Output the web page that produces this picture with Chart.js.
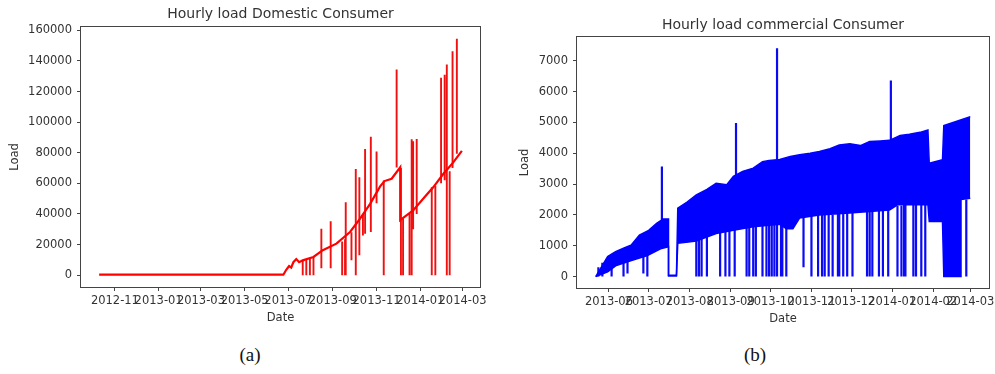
<!DOCTYPE html>
<html>
<head>
<meta charset="utf-8">
<title>Hourly load</title>
<script src="https://cdn.jsdelivr.net/npm/chart.js@4.4.1/dist/chart.umd.min.js"></script>
<style>
  html, body { margin: 0; padding: 0; background: #fff; width: 995px; height: 374px; overflow: hidden; }
  canvas { position: absolute; top: 0; }
  #dom { left: 0; }
  #com { left: 500px; }
  .cap { position: absolute; top: 344px; font-family: "Liberation Serif", "DejaVu Serif", serif;
         font-size: 19px; line-height: 22px; color: #111; transform: translateX(-50%); }
</style>
</head>
<body>
<canvas id="dom" width="495" height="335"></canvas>
<canvas id="com" width="505" height="335"></canvas>
<div class="cap" style="left:250px">(a)</div>
<div class="cap" style="left:755px">(b)</div>
<script>
// ---- Domestic consumer: slowly rising base load with spikes and outages ----
const domBaseDates = ['2012-10-10','2013-06-24','2013-06-28','2013-07-02','2013-07-05','2013-07-08',
  '2013-07-12','2013-07-16','2013-07-21','2013-08-05','2013-08-18','2013-09-06','2013-09-25',
  '2013-10-09','2013-10-23','2013-11-06','2013-11-12','2013-11-22','2013-12-04','2013-12-04',
  '2013-12-22','2014-01-05','2014-01-19','2014-02-02','2014-02-16','2014-02-28'];
const domBaseValues = [300,300,3500,6000,5000,8500,10500,8500,9700,11900,16300,20600,28200,
  37000,46600,58000,61500,63000,70500,36000,42300,49900,57400,66100,73700,81300];

const domSpikeDates = ['2013-07-21','2013-07-26','2013-07-31','2013-08-05','2013-08-16','2013-08-29',
  '2013-09-14','2013-09-18','2013-09-19','2013-09-27','2013-10-03','2013-10-08','2013-10-13',
  '2013-10-16','2013-10-24','2013-11-01','2013-11-11','2013-11-29','2013-12-05','2013-12-08',
  '2013-12-17','2013-12-20','2013-12-22','2013-12-27','2014-01-17','2014-01-22','2014-01-30',
  '2014-02-04','2014-02-07','2014-02-11','2014-02-15','2014-02-21'];
const domSpikeLows  = [0,0,0,0,4500,4500,0,0,0,9700,0,13000,26000,27000,28200,47000,0,70400,0,0,
  0,0,30000,40000,0,0,60000,62000,0,0,70000,79300];
const domSpikeHighs = [9700,10500,11000,11900,30400,35300,22000,23500,47700,28000,69400,64000,40000,
  82400,90400,80800,61800,134400,70000,37000,40000,88800,87500,89000,57400,58500,129000,131000,
  137700,68000,146300,154600];

const domTickLabels = ['2012-11','2013-01','2013-03','2013-05','2013-07','2013-09','2013-11','2014-01','2014-03'];
const domYTicks = [0,20000,40000,60000,80000,100000,120000,140000,160000];

// ---- Commercial consumer: daily swing between a low and a high envelope ----
const comUpperDates = ['2013-05-22','2013-05-31','2013-06-06','2013-06-12','2013-06-18','2013-06-24',
  '2013-07-01','2013-07-07','2013-07-12','2013-07-16','2013-07-16','2013-07-22','2013-07-23',
  '2013-07-30','2013-08-06','2013-08-14','2013-08-21','2013-08-29','2013-09-03','2013-09-10',
  '2013-09-18','2013-09-25','2013-09-30','2013-10-08','2013-10-16','2013-10-23','2013-10-31',
  '2013-11-07','2013-11-15','2013-11-22','2013-11-30','2013-12-08','2013-12-15','2013-12-23',
  '2013-12-30','2014-01-07','2014-01-14','2014-01-22','2014-01-28','2014-01-29','2014-02-08',
  '2014-02-09','2014-02-16','2014-03-01'];
const comUpperValues = [0,650,810,920,1030,1350,1500,1730,1870,1870,40,40,2220,2420,2650,2830,3030,
  2980,3250,3410,3520,3730,3770,3800,3900,3950,4000,4060,4150,4270,4310,4250,4380,4400,4420,4580,
  4620,4680,4760,3680,3790,4900,5000,5190];

const comLowerDates = ['2013-05-22','2013-05-31','2013-06-06','2013-06-18','2013-06-30','2013-07-10',
  '2013-07-16','2013-07-16','2013-07-22','2013-07-23','2013-08-06','2013-08-21','2013-09-03',
  '2013-09-18','2013-10-08','2013-10-13','2013-10-18','2013-10-23','2013-11-07','2013-11-30',
  '2013-12-15','2013-12-30','2014-01-05','2014-01-28','2014-01-29','2014-02-08','2014-02-09',
  '2014-02-22','2014-02-22','2014-03-01'];
const comLowerValues = [0,150,350,520,680,900,970,20,20,1080,1150,1400,1500,1620,1700,1550,1550,
  1900,2000,2060,2110,2160,2330,2330,1790,1790,0,0,2500,2540];

// individual hours where the load fell away or jumped up
const comStrokeDates = ['2013-05-24','2013-05-27','2013-06-03','2013-06-12','2013-06-15','2013-06-27',
  '2013-06-30','2013-07-11','2013-08-06','2013-08-08','2013-08-10','2013-08-14','2013-08-24',
  '2013-08-28','2013-08-31','2013-09-04','2013-09-05','2013-09-13','2013-09-15','2013-09-18',
  '2013-09-20','2013-09-25','2013-09-28','2013-09-30','2013-10-02','2013-10-04','2013-10-06',
  '2013-10-06','2013-10-09','2013-10-10','2013-10-13','2013-10-26','2013-11-01','2013-11-06',
  '2013-11-09','2013-11-11','2013-11-14','2013-11-17','2013-11-21','2013-11-22','2013-11-25',
  '2013-11-28','2013-12-02','2013-12-13','2013-12-15','2013-12-17','2013-12-22','2013-12-25',
  '2013-12-29','2013-12-31','2014-01-05','2014-01-08','2014-01-10','2014-01-11','2014-01-17',
  '2014-01-19','2014-01-23','2014-01-26','2014-02-26'];
const comStrokeLows  = [0,0,0,0,100,100,0,1800,0,0,0,0,0,0,0,0,3300,0,0,0,0,0,0,0,0,0,0,3800,0,0,0,300,
  0,0,0,0,0,0,0,0,0,0,0,0,0,0,0,0,0,4400,0,0,0,0,0,0,0,0,0];
const comStrokeHighs = [300,450,700,900,900,1400,1450,3570,1500,1500,2430,1500,1600,1600,1600,1600,4980,
  1700,1700,1700,1700,3680,1800,1800,1800,1800,1800,7410,1800,1800,1800,3900,2000,2000,2000,2000,
  2000,2000,2100,2100,2100,2100,2100,2150,2150,2150,2200,2200,2200,6360,2300,2300,2350,2350,2350,
  2350,2350,2350,2500];

const comTickLabels = ['2013-06','2013-07','2013-08','2013-09','2013-10','2013-11','2013-12','2014-01','2014-02','2014-03'];
const comYTicks = [0,1000,2000,3000,4000,5000,6000,7000];

// ---- helpers ----
const DAY = 86400000;
const dayOf = s => Date.UTC(+s.slice(0, 4), +s.slice(5, 7) - 1, s.length > 7 ? +s.slice(8, 10) : 1) / DAY;
const series = (dates, vals) => dates.map((d, i) => ({ x: dayOf(d), y: vals[i] }));
const strokes = (dates, lows, highs) => dates.flatMap((d, i) => {
  const x = dayOf(d);
  return [{ x, y: highs[i] }, { x, y: lows[i] }, { x, y: null }];
});
// matplotlib-style 5% data margins
const padRange = (lo, hi) => { const m = (hi - lo) * 0.05; return [lo - m, hi + m]; };

const INK = '#333';
const EDGE = '#444';
const FONT = 'DejaVu Sans';
Chart.defaults.font.family = FONT;
Chart.defaults.color = INK;

const framePlugin = {
  id: 'frame',
  afterDraw(chart) {
    const { ctx, chartArea: a } = chart;
    ctx.save();
    ctx.strokeStyle = EDGE;
    ctx.lineWidth = 1;
    ctx.strokeRect(Math.round(a.left) - 0.5, Math.round(a.top) - 0.5,
                   Math.round(a.right - a.left) + 1, Math.round(a.bottom - a.top) + 1);
    ctx.restore();
  }
};

function xAxis(range, labels, h) {
  return {
    type: 'linear', min: range[0], max: range[1],
    afterBuildTicks: s => { s.ticks = labels.map(l => ({ value: dayOf(l) })); },
    afterFit: s => { s.height = h; s.paddingLeft = 0; s.paddingRight = 0; },
    ticks: { autoSkip: false, maxRotation: 0, minRotation: 0, padding: 3, color: INK,
             font: { family: FONT, size: 11.5 }, callback: (v, i) => labels[i] },
    grid: { drawOnChartArea: false, drawTicks: true, tickLength: 4, color: EDGE, lineWidth: 1 },
    border: { display: false },
    title: { display: true, text: 'Date', color: INK, font: { family: FONT, size: 11.5 },
             padding: { top: 0, bottom: 0 } }
  };
}
function yAxis(range, ticks, w, titlePad) {
  return {
    type: 'linear', min: range[0], max: range[1],
    afterBuildTicks: s => { s.ticks = ticks.map(v => ({ value: v })); },
    afterFit: s => { s.width = w; s.paddingTop = 0; s.paddingBottom = 0; },
    ticks: { padding: 5, color: INK, font: { family: FONT, size: 11.5 }, callback: v => String(v) },
    grid: { drawOnChartArea: false, drawTicks: true, tickLength: 4, color: EDGE, lineWidth: 1 },
    border: { display: false },
    title: { display: true, text: 'Load', color: INK, font: { family: FONT, size: 11.5 },
             padding: { top: titlePad, bottom: 0 } }
  };
}
function titleOpts(text, top, bottom) {
  return { display: true, text, fullSize: false, color: INK,
           font: { family: FONT, size: 14, weight: 'normal' }, padding: { top, bottom } };
}
const lineBase = { pointRadius: 0, pointHoverRadius: 0, tension: 0, spanGaps: false };

// ---- Domestic chart ----
const domBase = series(domBaseDates, domBaseValues);
const domSpikes = strokes(domSpikeDates, domSpikeLows, domSpikeHighs);
const domX = padRange(dayOf(domBaseDates[0]), dayOf(domBaseDates[domBaseDates.length - 1]));
const domY = padRange(0, Math.max(...domSpikeHighs, ...domBaseValues));

new Chart(document.getElementById('dom'), {
  type: 'line',
  data: { datasets: [
    { ...lineBase, data: domBase, borderColor: '#ff0000', borderWidth: 2.2, fill: false },
    { ...lineBase, data: domSpikes, borderColor: '#f01010', borderWidth: 1.9, fill: false }
  ] },
  options: {
    responsive: false, animation: false, events: [],
    layout: { padding: { left: 0, right: 15, top: 0, bottom: 10 } },
    plugins: { legend: { display: false }, tooltip: { enabled: false },
               title: titleOpts('Hourly load Domestic Consumer', 6, 4) },
    scales: { x: xAxis(domX, domTickLabels, 38), y: yAxis(domY, domYTicks, 81, 8) }
  },
  plugins: [framePlugin]
});

// ---- Commercial chart ----
const comUpper = series(comUpperDates, comUpperValues);
const comLower = series(comLowerDates, comLowerValues);
const comStrokes = strokes(comStrokeDates, comStrokeLows, comStrokeHighs);
const comX = padRange(dayOf(comUpperDates[0]), dayOf(comUpperDates[comUpperDates.length - 1]));
const comY = padRange(0, Math.max(...comStrokeHighs, ...comUpperValues));

new Chart(document.getElementById('com'), {
  type: 'line',
  data: { datasets: [
    { ...lineBase, data: comUpper, borderColor: '#0000ff', borderWidth: 1.5,
      fill: '+1', backgroundColor: '#0000ff' },
    { ...lineBase, data: comLower, borderColor: '#0000ff', borderWidth: 1.5, fill: false },
    { ...lineBase, data: comStrokes, borderColor: '#0a0af5', borderWidth: 2.2, fill: false }
  ] },
  options: {
    responsive: false, animation: false, events: [],
    layout: { padding: { left: 0, right: 16, top: 0, bottom: 9 } },
    plugins: { legend: { display: false }, tooltip: { enabled: false },
               title: titleOpts('Hourly load commercial Consumer', 16.5, 3.5) },
    scales: { x: xAxis(comX, comTickLabels, 38), y: yAxis(comY, comYTicks, 77, 18) }
  },
  plugins: [framePlugin]
});
</script>
</body>
</html>
